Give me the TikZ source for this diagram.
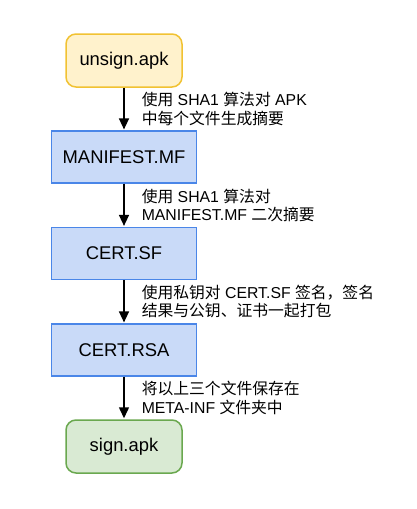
\documentclass[tikz,border=0pt]{standalone}
\usepackage{fontspec}
\setmainfont{Liberation Sans}
\newfontfamily\cjk{Noto Sans CJK SC}
\usetikzlibrary{arrows.meta,positioning}
\newcommand{\zh}[1]{{\cjk #1}}
\definecolor{apkfill}{HTML}{FFF2CC}
\definecolor{apkline}{HTML}{F1C232}
\definecolor{filefill}{HTML}{C9DAF8}
\definecolor{fileline}{HTML}{4A86E8}
\definecolor{signfill}{HTML}{D9EAD3}
\definecolor{signline}{HTML}{6AA84F}

\begin{document}
\begin{tikzpicture}[x=1pt, y=1pt, shorten >= 1pt, node distance=96.5pt, on grid, auto,
    >={Triangle[length=11pt,width=10pt]},
    apk/.style={draw, rounded corners=10pt, line width=1.5pt, minimum width=116pt,
      minimum height=53pt, font=\fontsize{18.4pt}{22pt}\selectfont},
    file/.style={draw=fileline, fill=filefill, line width=1.2pt, minimum width=145pt,
      minimum height=52pt, font=\fontsize{18.4pt}{22pt}\selectfont},
    note/.style={align=left, inner sep=0pt, xshift=17pt,
      font=\fontsize{15.8pt}{18.3pt}\selectfont}]
      \useasboundingbox (0,0) rectangle (416,-509);
      \node (0) [apk, draw=apkline, fill=apkfill] at (124,-60.5) {unsign.apk};
      \node (1) [file, below=of 0] {MANIFEST.MF};
      \node (2) [file, below=of 1] {CERT.SF};
      \node (3) [file, below=of 2] {CERT.RSA};
      \node (4) [apk, draw=signline, fill=signfill, below=of 3] {sign.apk};

      \path[->, line width=1.5pt]
        (0) edge node[note] {\zh{使用} SHA1 \zh{算法对} APK\\\zh{中每个文件生成摘要}} (1)
        (1) edge node[note] {\zh{使用} SHA1 \zh{算法对}\\MANIFEST.MF \zh{二次摘要}} (2)
        (2) edge node[note] {\zh{使用私钥对} CERT.SF \zh{签名，签名}\\\zh{结果与公钥、证书一起打包}} (3)
        (3) edge node[note] {\zh{将以上三个文件保存在}\\META-INF \zh{文件夹中}} (4);
    \end{tikzpicture}
\end{document}
